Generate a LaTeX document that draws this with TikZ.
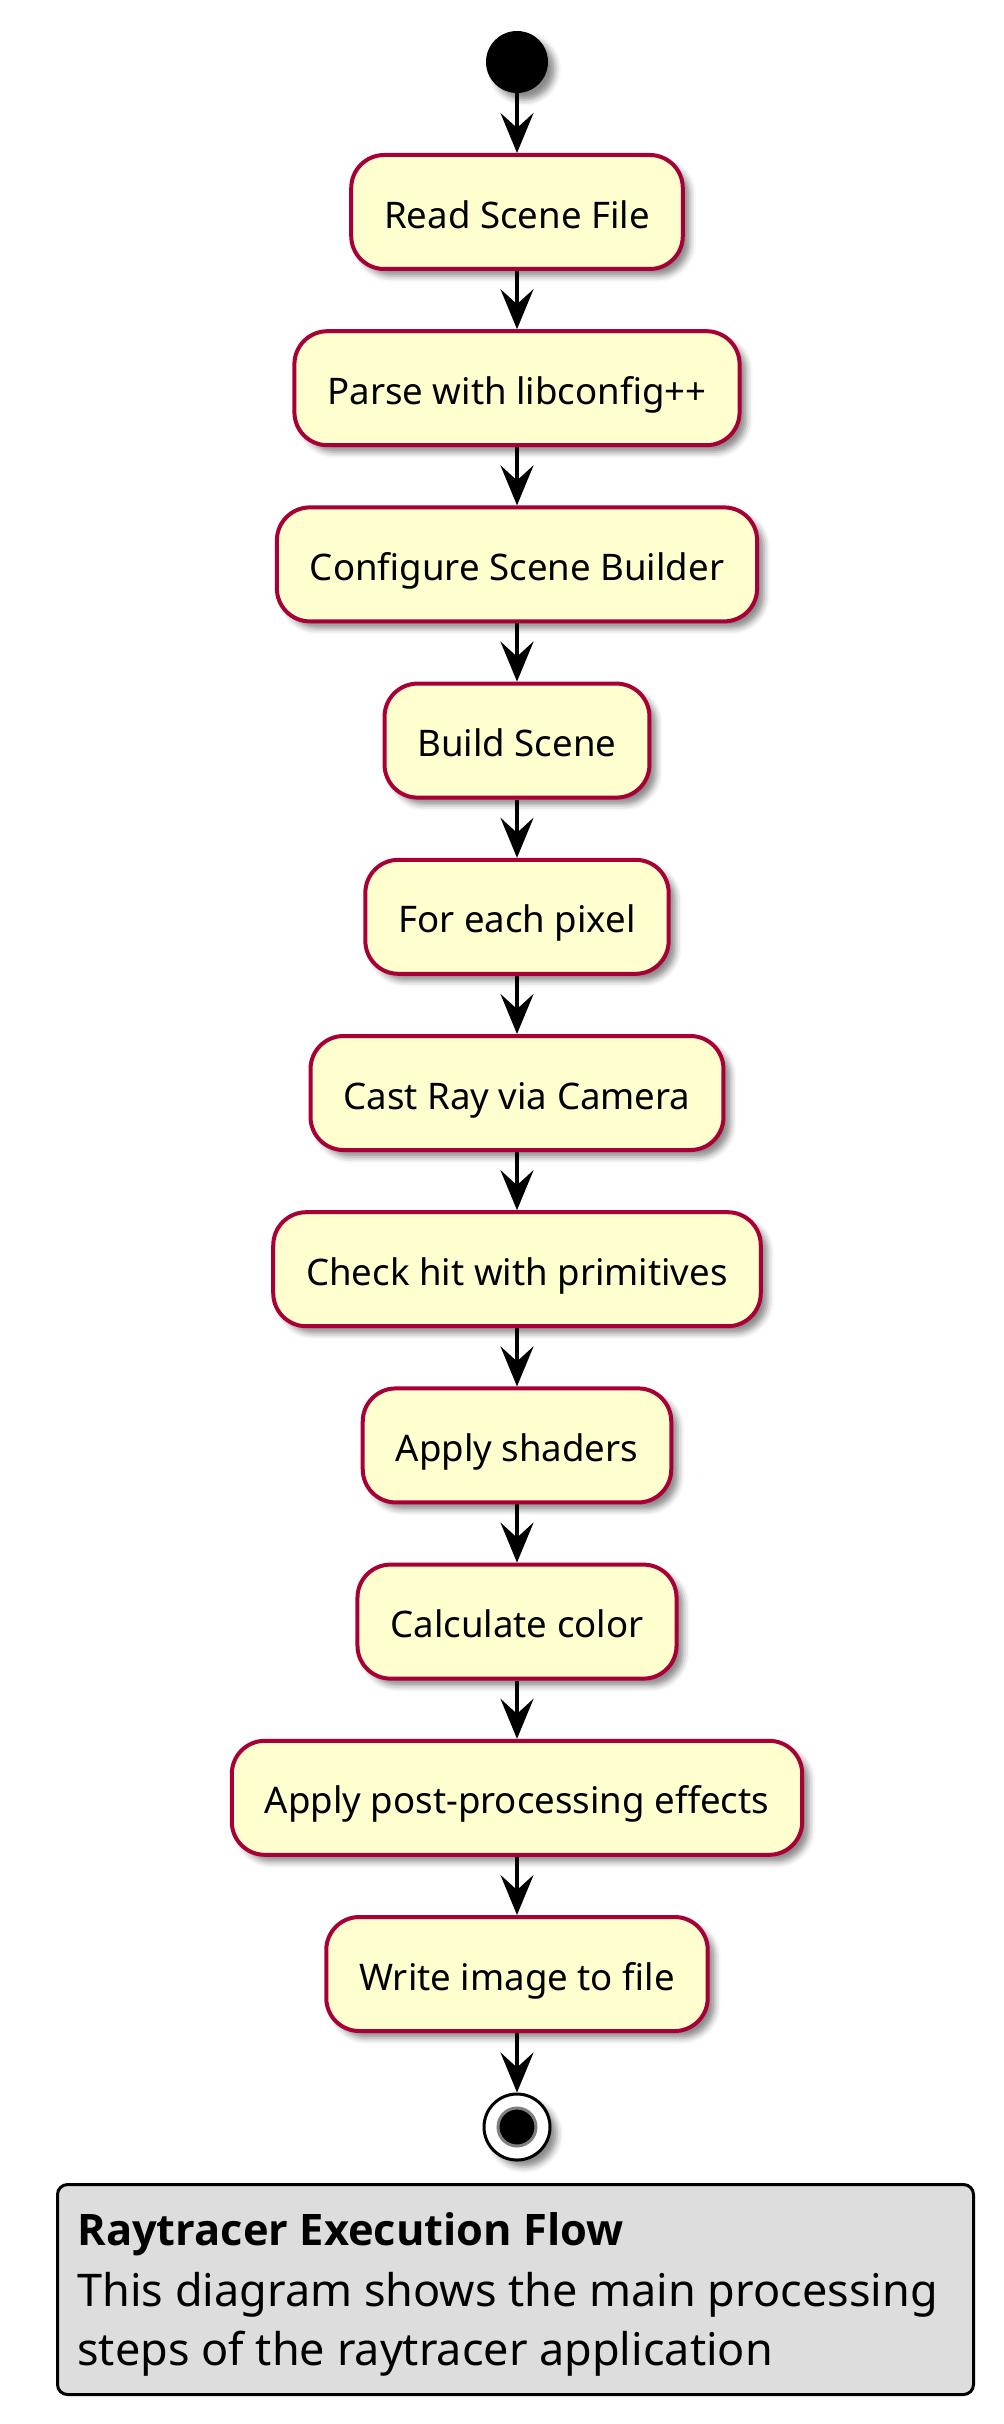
\documentclass[tikz,border=0pt]{standalone}
\usepackage{fontspec}
\setmainfont{Noto Sans}
\newfontfamily\titlefont{Open Sans}
\usetikzlibrary{arrows.meta,shadows.blur}
\definecolor{actfill}{HTML}{FEFECE}
\definecolor{actline}{HTML}{A80036}
\definecolor{notefill}{HTML}{DDDDDD}
\definecolor{ringgray}{HTML}{7F7F7F}
\tikzset{
  act/.style={draw=actline, fill=actfill, line width=2pt, rounded corners=16.5pt,
    minimum height=57pt, inner xsep=16.5pt, inner ysep=0pt,
    text height=16pt, text depth=0pt,
    font=\fontsize{18.3pt}{22pt}\selectfont,
    blur shadow={shadow xshift=3.5pt, shadow yshift=-3.5pt, shadow blur radius=3pt, shadow opacity=45}},
  flow/.style={line width=2pt, -{Stealth[length=20pt, width=16.5pt, inset=7.5pt]}},
  startdot/.style={circle, fill=black, minimum size=31pt, inner sep=0pt,
    blur shadow={shadow xshift=3.5pt, shadow yshift=-3.5pt, shadow blur radius=3pt, shadow opacity=45}},
  endring/.style={circle, draw=black, fill=white, line width=1.5pt, minimum size=33pt, inner sep=0pt,
    blur shadow={shadow xshift=3.5pt, shadow yshift=-3.5pt, shadow blur radius=3pt, shadow opacity=45}},
  enddot/.style={circle, draw=ringgray, fill=black, line width=1.5pt, minimum size=19pt, inner sep=0pt},
  notebox/.style={draw=black, fill=notefill, line width=1.5pt, rounded corners=5pt, inner sep=0pt},
  notetext/.style={anchor=base west, inner sep=0pt, font=\fontsize{22.5pt}{30pt}\selectfont},
  notetitlestyle/.style={anchor=base west, inner sep=0pt, font=\titlefont\fontsize{21.7pt}{30pt}\selectfont\bfseries},
}
\begin{document}
\begin{tikzpicture}[x=0.5pt, y=-0.5pt]
\useasboundingbox (0,0) rectangle (1003,2424);
\node[startdot] (start) at (517,62) {};
\node[act] (b1) at (517,212) {Read Scene File};
\node[act] (b2) at (517,388.2) {Parse with libconfig++};
\node[act] (b3) at (517,564.4) {Configure Scene Builder};
\node[act] (b4) at (517,740.6) {Build Scene};
\node[act] (b5) at (517,916.8) {For each pixel};
\node[act] (b6) at (517,1093) {Cast Ray via Camera};
\node[act] (b7) at (517,1269.2) {Check hit with primitives};
\node[act] (b8) at (517,1445.4) {Apply shaders};
\node[act] (b9) at (517,1621.6) {Calculate color};
\node[act] (b10) at (517,1797.8) {Apply post-processing effects};
\node[act] (b11) at (517,1974) {Write image to file};
\node[endring] (stop) at (517,2127) {};
\node[enddot] (stopdot) at (stop.center) {};
\draw[flow] (start) -- (b1.north);
\draw[flow] (b1.south) -- (b2.north);
\draw[flow] (b2.south) -- (b3.north);
\draw[flow] (b3.south) -- (b4.north);
\draw[flow] (b4.south) -- (b5.north);
\draw[flow] (b5.south) -- (b6.north);
\draw[flow] (b6.south) -- (b7.north);
\draw[flow] (b7.south) -- (b8.north);
\draw[flow] (b8.south) -- (b9.north);
\draw[flow] (b9.south) -- (b10.north);
\draw[flow] (b10.south) -- (b11.north);
\draw[flow] (b11.south) -- (stop.north);
\node[notebox, anchor=north west, minimum width=458pt, minimum height=105pt] (note) at (56,2183) {};
\node[notetitlestyle] (notetitle) at (77,2245) {Raytracer Execution Flow};
\node[notetext] (noteline1) at (77,2306) {This diagram shows the main processing};
\node[notetext] (noteline2) at (77,2365) {steps of the raytracer application};
\end{tikzpicture}
\end{document}
